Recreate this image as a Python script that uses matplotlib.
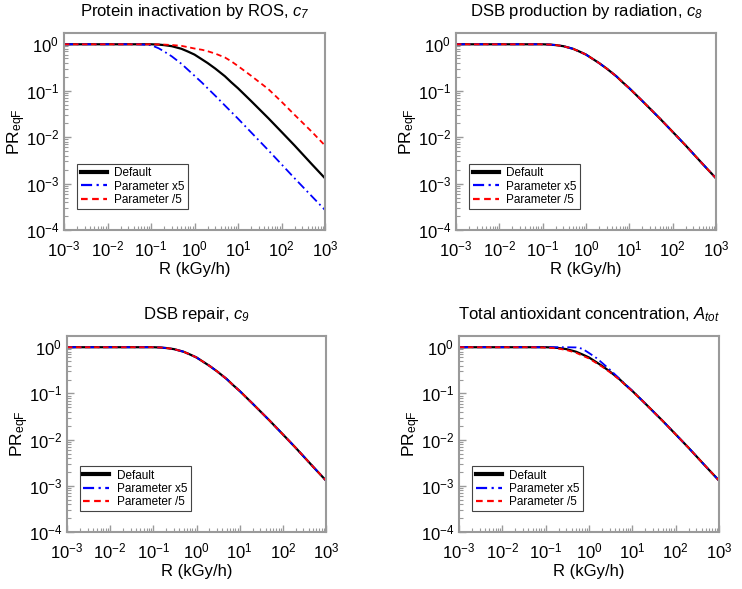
"""
steady-state PR_eqF vs dose rate, parameter sensitivity (4 panels)
"""
import matplotlib
matplotlib.use('Agg')
import matplotlib.pyplot as plt
from matplotlib.ticker import LogLocator, NullFormatter

plt.rcParams['font.family'] = ['Liberation Sans', 'DejaVu Sans']
plt.rcParams['mathtext.fontset'] = 'custom'
plt.rcParams['mathtext.rm'] = 'Liberation Sans'
plt.rcParams['mathtext.it'] = 'Liberation Sans:italic'
plt.rcParams['mathtext.sf'] = 'Liberation Sans:italic'

# dose rate grid (kGy/h)
R = [0.001, 0.003, 0.01, 0.03, 0.05, 0.1, 0.15, 0.2, 0.3, 0.5, 0.7, 1,
     1.5, 2, 3, 5, 7, 10, 20, 50, 100, 200, 500, 1000]

DEFAULT = [1, 1, 1, 1, 1, 1.0, 0.985, 0.96, 0.91, 0.8, 0.7, 0.6,
           0.47, 0.395, 0.3, 0.205, 0.152, 0.113, 0.06, 0.0255, 0.013,
           0.0066, 0.0026, 0.0013]

C7_X5 = [1, 1, 1, 1, 1, 0.96, 0.82, 0.7, 0.55, 0.38, 0.285, 0.21,
         0.148, 0.113, 0.078, 0.048, 0.035, 0.025, 0.0127, 0.0052, 0.0026,
         0.0013, 0.00053, 0.00027]
C7_DIV5 = [1, 1, 1, 1, 1, 1, 0.995, 0.985, 0.965, 0.925, 0.87, 0.81,
           0.76, 0.71, 0.63, 0.52, 0.43, 0.34, 0.21, 0.108, 0.058,
           0.0302, 0.013, 0.0066]

# c8 and c9 curves coincide with the default
C8_X5 = list(DEFAULT)
C8_DIV5 = list(DEFAULT)
C9_X5 = list(DEFAULT)
C9_DIV5 = list(DEFAULT)

ATOT_X5 = [1, 1, 1, 1, 1, 1, 1, 1, 1, 0.99, 0.93, 0.75,
           0.58, 0.46, 0.33, 0.21, 0.155, 0.114, 0.06, 0.0255, 0.013,
           0.0066, 0.0026, 0.0013]
ATOT_DIV5 = [1, 1, 1, 1, 1, 0.98, 0.96, 0.93, 0.87, 0.76, 0.66, 0.57,
             0.45, 0.38, 0.29, 0.2, 0.15, 0.112, 0.06, 0.0255, 0.013,
             0.0066, 0.0026, 0.0013]

TITLES = [r'Protein inactivation by ROS, $\mathit{c}_{\mathsf{7}}$',
          r'DSB production by radiation, $\mathit{c}_{\mathsf{8}}$',
          r'DSB repair, $\mathit{c}_{\mathsf{9}}$',
          r'Total antioxidant concentration, $\mathit{A}_{\mathsf{tot}}$']
SERIES = [(C7_X5, C7_DIV5), (C8_X5, C8_DIV5), (C9_X5, C9_DIV5),
          (ATOT_X5, ATOT_DIV5)]
LABELS = ['Default', 'Parameter x5', 'Parameter /5']

W, H = 742, 589
# axes boxes in pixels: left, right, top, bottom
BOXES = [(64, 325, 33, 230), (456, 716, 33, 230),
         (67, 326, 336, 532), (459, 719, 336, 532)]

fig = plt.figure(figsize=(W / 100, H / 100), dpi=100)
GREY = '#9a9a9a'

for box, title, (x5, div5) in zip(BOXES, TITLES, SERIES):
    l, r, t, b = box
    ax = fig.add_axes([l / W, 1 - b / H, (r - l) / W, (b - t) / H])
    ax.plot(R, DEFAULT, color='black', lw=1.6, label=LABELS[0])
    ax.plot(R, x5, color='blue', lw=1.3, ls='-.', dashes=(5, 2, 1, 2),
            label=LABELS[1])
    ax.plot(R, div5, color='red', lw=1.3, ls='--', dashes=(3, 2),
            label=LABELS[2])
    ax.set_xscale('log')
    ax.set_yscale('log')
    ax.set_xlim(1e-3, 1e3)
    ax.set_ylim(1e-4, 1.75)
    ax.xaxis.set_major_locator(LogLocator(base=10, numticks=10))
    ax.yaxis.set_major_locator(LogLocator(base=10, numticks=10))
    for axis in (ax.xaxis, ax.yaxis):
        axis.set_minor_locator(LogLocator(base=10, subs=range(2, 10),
                                          numticks=20))
        axis.set_minor_formatter(NullFormatter())
    ax.tick_params(which='both', direction='in', color=GREY,
                   labelsize=12, labelcolor='black')
    ax.tick_params(which='major', length=5, width=1)
    ax.tick_params(which='minor', length=3, width=0.8)
    ax.tick_params(axis='x', pad=7)
    for s in ax.spines.values():
        s.set_color(GREY)
        s.set_linewidth(1.5)
    ax.set_title(title, fontsize=12, pad=12)
    ax.set_xlabel('R (kGy/h)', fontsize=12, labelpad=2)
    ax.set_ylabel(r'PR$_{\mathrm{eqF}}$', fontsize=12.5, labelpad=-2)
    leg = ax.legend(loc='lower left', bbox_to_anchor=(0.05, 0.105),
                    fontsize=8.5, frameon=True, fancybox=False,
                    edgecolor='#444444', framealpha=1, borderaxespad=0,
                    handlelength=2.2, handletextpad=0.6, labelspacing=0.1,
                    borderpad=0.3)
    leg.get_frame().set_linewidth(0.8)
    hl = leg.get_lines()
    hl[0].set_linewidth(3.0)
    hl[1].set_linewidth(1.6)
    hl[2].set_linewidth(1.6)

fig.savefig('out.png', dpi=100)
